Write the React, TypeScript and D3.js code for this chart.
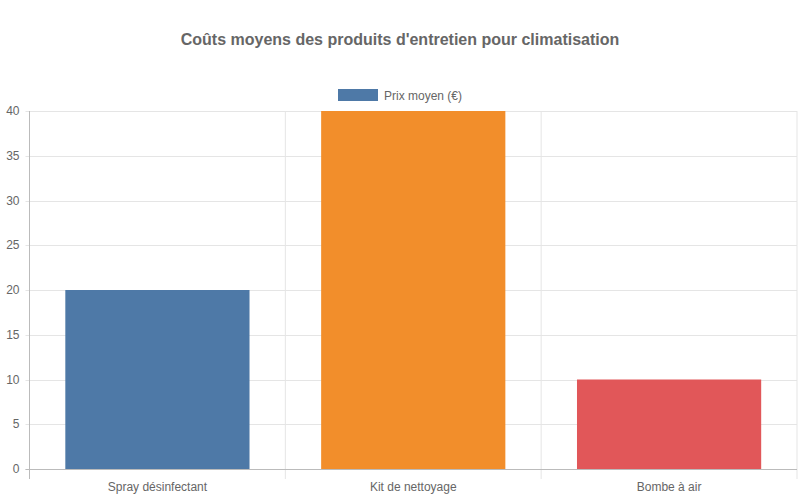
import { useEffect, useRef } from 'react';
import * as d3 from 'd3';

const categories = ['Spray désinfectant', 'Kit de nettoyage', 'Bombe à air'];
const prices = [20, 40, 10];
const barColors = ['#4e79a7', '#f28e2b', '#e15759'];
const yTicks = [0, 5, 10, 15, 20, 25, 30, 35, 40];

const WIDTH = 800;
const HEIGHT = 500;
const MARGIN = { top: 111, right: 3, bottom: 31, left: 29.5 };
const FONT = '"Liberation Sans", Arial, Helvetica, sans-serif';

export default function App() {
  const svgRef = useRef<SVGSVGElement>(null);

  useEffect(() => {
    if (!svgRef.current) return;
    const svg = d3.select(svgRef.current);
    svg.selectAll('*').remove();

    const plotW = WIDTH - MARGIN.left - MARGIN.right;
    const plotH = HEIGHT - MARGIN.top - MARGIN.bottom;

    const x = d3.scaleBand().domain(categories).range([0, plotW]);
    const y = d3.scaleLinear().domain([0, 40]).range([plotH, 0]);

    // Title
    svg
      .append('text')
      .attr('x', WIDTH / 2)
      .attr('y', 45)
      .attr('text-anchor', 'middle')
      .attr('font-size', 16)
      .attr('font-weight', 'bold')
      .attr('fill', '#666')
      .text("Coûts moyens des produits d'entretien pour climatisation");

    // Legend
    svg
      .append('rect')
      .attr('x', 338)
      .attr('y', 89)
      .attr('width', 40)
      .attr('height', 12)
      .attr('fill', barColors[0]);
    svg
      .append('text')
      .attr('x', 384)
      .attr('y', 99.5)
      .attr('font-size', 12)
      .attr('fill', '#666')
      .text('Prix moyen (€)');

    const g = svg
      .append('g')
      .attr('transform', `translate(${MARGIN.left},${MARGIN.top})`);

    // Horizontal grid
    yTicks.forEach((t) => {
      g.append('line')
        .attr('x1', -4)
        .attr('x2', plotW)
        .attr('y1', Math.round(y(t)) + 0.5)
        .attr('y2', Math.round(y(t)) + 0.5)
        .attr('stroke', '#e5e5e5')
        .attr('stroke-width', 1);
      g.append('text')
        .attr('x', -10)
        .attr('y', y(t) + 4)
        .attr('text-anchor', 'end')
        .attr('font-size', 12)
        .attr('fill', '#666')
        .text(t);
    });

    // Vertical grid (category boundaries)
    const boundaries = categories.map((c) => x(c)!).concat(plotW);
    boundaries.forEach((bx) => {
      g.append('line')
        .attr('x1', bx)
        .attr('x2', bx)
        .attr('y1', 0)
        .attr('y2', plotH + 10)
        .attr('stroke', '#e5e5e5')
        .attr('stroke-width', 1);
    });

    // Bars
    const barW = x.bandwidth() * 0.72;
    categories.forEach((c, i) => {
      g.append('rect')
        .attr('x', x(c)! + (x.bandwidth() - barW) / 2)
        .attr('y', y(prices[i]))
        .attr('width', barW)
        .attr('height', plotH - y(prices[i]))
        .attr('fill', barColors[i]);

      g.append('text')
        .attr('x', x(c)! + x.bandwidth() / 2)
        .attr('y', plotH + 22)
        .attr('text-anchor', 'middle')
        .attr('font-size', 12)
        .attr('fill', '#666')
        .text(c);
    });

    // Axis lines
    g.append('line')
      .attr('x1', 0)
      .attr('x2', 0)
      .attr('y1', 0)
      .attr('y2', plotH + 10)
      .attr('stroke', '#bbb')
      .attr('stroke-width', 1);
    g.append('line')
      .attr('x1', -4)
      .attr('x2', plotW)
      .attr('y1', Math.round(plotH) + 0.5)
      .attr('y2', Math.round(plotH) + 0.5)
      .attr('stroke', '#bbb')
      .attr('stroke-width', 1);
  }, []);

  return (
    <svg
      ref={svgRef}
      width={WIDTH}
      height={HEIGHT}
      style={{ position: 'absolute', left: 0, top: 0, fontFamily: FONT, background: '#fff' }}
    />
  );
}
